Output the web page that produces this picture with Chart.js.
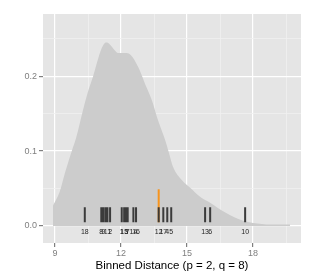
<!DOCTYPE html>
<html><head><meta charset="utf-8">
<script src="https://cdn.jsdelivr.net/npm/chart.js@4.4.1/dist/chart.umd.min.js"></script>
<style>html,body{margin:0;padding:0;background:#fff;overflow:hidden}</style>
</head><body>
<canvas id="c" width="315" height="280"></canvas>
<script>
// Density curve (x = binned distance, y = density)
const densityX = [8.90, 9.20, 9.45, 9.77, 9.95, 10.27, 10.50, 10.73, 11.05, 11.25, 11.36, 11.50, 11.70, 11.86, 12.05, 12.25, 12.45, 12.60, 12.86, 13.10, 13.40, 13.68, 14.00, 14.18, 14.36, 14.77, 15.14, 15.59, 16.05, 16.40, 16.80, 17.55, 18.00, 18.80, 19.68];
const densityY = [0.027, 0.045, 0.071, 0.101, 0.117, 0.155, 0.180, 0.200, 0.232, 0.244, 0.245, 0.242, 0.235, 0.231, 0.231, 0.231, 0.228, 0.222, 0.207, 0.189, 0.168, 0.141, 0.115, 0.097, 0.079, 0.061, 0.051, 0.039, 0.031, 0.024, 0.017, 0.007, 0.004, 0.002, 0.002];

// Rug marks with their labels
const rugX = [10.35, 11.10, 11.19, 11.29, 11.38, 11.50, 12.03, 12.14, 12.23, 12.30, 12.56, 12.68, 13.71, 13.92, 14.10, 14.28, 15.82, 16.05, 17.64];
const rugLabels = ['18', '8', '9', '', '11', '2', '1', '15', '3', '7', '14', '16', '12', '17', '4', '5', '13', '6', '10'];
const rugBottom = 0.005;
const rugTop = 0.025;
const rugLabelY = -0.0076;

// Highlighted observation
const highlightX = 13.71;
const highlightTop = 0.049;

// Axes
const xMajorTicks = [9, 12, 15, 18];
const xMinorTicks = [10.5, 13.5, 16.5, 19.5];
const yMajorTicks = [0, 0.1, 0.2];
const yMinorTicks = [0.05, 0.15, 0.25];
const yTickLabels = ['0.0', '0.1', '0.2'];
const xTitle = 'Binned Distance (p = 2, q = 8)';

const FONT = "'Liberation Sans', Arial, sans-serif";

const densityData = densityX.map((x, i) => ({x, y: densityY[i]}));
const rugData = [];
rugX.forEach(x => { rugData.push({x, y: rugBottom}, {x, y: rugTop}, {x, y: null}); });
const highlightData = [{x: highlightX, y: rugBottom}, {x: highlightX, y: highlightTop}];

const isMajor = (arr, v) => arr.some(m => Math.abs(m - v) < 1e-9);

const panelBg = {
  id: 'panelBg',
  beforeDraw(chart) {
    const {ctx, chartArea: a} = chart;
    ctx.save();
    ctx.fillStyle = '#e5e5e5';
    ctx.fillRect(a.left, a.top, a.right - a.left, a.bottom - a.top);
    ctx.restore();
  }
};

const rugText = {
  id: 'rugText',
  afterDatasetsDraw(chart) {
    const {ctx, scales: {x, y}} = chart;
    ctx.save();
    ctx.font = '7px ' + FONT;
    ctx.fillStyle = '#262626';
    ctx.textAlign = 'center';
    ctx.textBaseline = 'middle';
    const py = y.getPixelForValue(rugLabelY);
    rugX.forEach((v, i) => {
      if (rugLabels[i]) ctx.fillText(rugLabels[i], x.getPixelForValue(v), py);
    });
    ctx.restore();
  }
};

new Chart(document.getElementById('c'), {
  type: 'line',
  data: {
    datasets: [
      {
        data: rugData, order: 1, borderColor: 'rgba(51,51,51,0.95)', borderWidth: 2,
        borderCapStyle: 'butt', pointRadius: 0, spanGaps: false, fill: false
      },
      {
        data: highlightData, order: 2, borderColor: '#f7941d', borderWidth: 2,
        borderCapStyle: 'butt', pointRadius: 0, fill: false
      },
      {
        data: densityData, order: 3, borderWidth: 0, borderColor: 'rgba(0,0,0,0)',
        backgroundColor: '#cccccc', fill: 'origin', pointRadius: 0,
        cubicInterpolationMode: 'monotone'
      }
    ]
  },
  options: {
    responsive: false,
    animation: false,
    events: [],
    layout: {padding: {left: 0, top: 14, right: 14, bottom: 0}},
    plugins: {legend: {display: false}, tooltip: {enabled: false}},
    scales: {
      x: {
        type: 'linear', min: 8.45, max: 20.18,
        afterBuildTicks(s) { s.ticks = [...xMajorTicks, ...xMinorTicks].sort((a, b) => a - b).map(v => ({value: v})); },
        afterFit(s) { s.height = 37; },
        border: {display: false},
        grid: {
          color: c => isMajor(xMajorTicks, c.tick.value) ? '#ffffff' : '#f0f0f0',
          lineWidth: c => isMajor(xMajorTicks, c.tick.value) ? 1.2 : 0.8,
          tickColor: c => isMajor(xMajorTicks, c.tick.value) ? '#7f7f7f' : 'rgba(0,0,0,0)',
          tickLength: 4, drawTicks: true
        },
        ticks: {
          autoSkip: false, maxRotation: 0, padding: 1, color: '#7f7f7f',
          font: {family: FONT, size: 9},
          callback: v => isMajor(xMajorTicks, v) ? String(v) : ''
        },
        title: {display: true, text: xTitle, color: '#000000', font: {family: FONT, size: 11.5}, padding: {top: 2, bottom: 7}}
      },
      y: {
        type: 'linear', min: -0.0227, max: 0.283,
        afterBuildTicks(s) { s.ticks = [...yMajorTicks, ...yMinorTicks].sort((a, b) => a - b).map(v => ({value: v})); },
        afterFit(s) { s.width = 43; },
        border: {display: false},
        grid: {
          color: c => isMajor(yMajorTicks, c.tick.value) ? '#ffffff' : '#f0f0f0',
          lineWidth: c => isMajor(yMajorTicks, c.tick.value) ? 1.2 : 0.8,
          tickColor: c => isMajor(yMajorTicks, c.tick.value) ? '#7f7f7f' : 'rgba(0,0,0,0)',
          tickLength: 4, drawTicks: true
        },
        ticks: {
          autoSkip: false, padding: 2, color: '#7f7f7f',
          font: {family: FONT, size: 9},
          callback: v => { const i = yMajorTicks.findIndex(m => Math.abs(m - v) < 1e-9); return i >= 0 ? yTickLabels[i] : ''; }
        }
      }
    }
  },
  plugins: [panelBg, rugText]
});
</script>
</body></html>
